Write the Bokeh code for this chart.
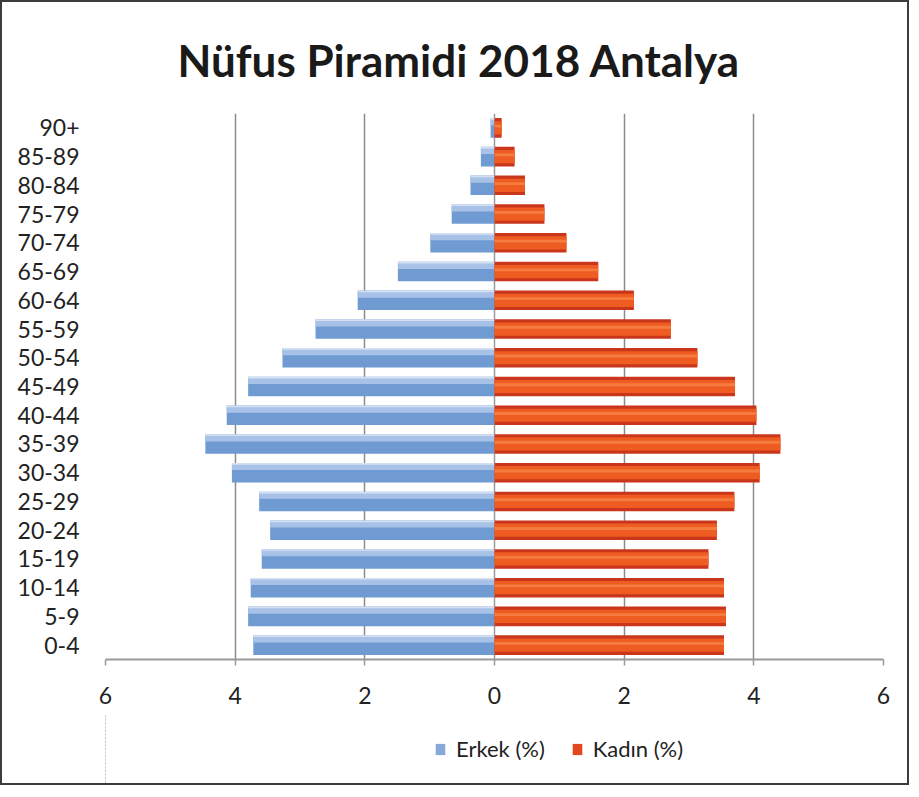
import numpy as np
from bokeh.plotting import figure
from bokeh.layouts import column
from bokeh.models import (ColumnDataSource, Range1d, FixedTicker, Legend, LegendItem,
                          Span)
from bokeh.transform import dodge
from bokeh.embed import file_html
from bokeh.resources import INLINE

# ---- data (bottom -> top) ----
age_groups = ["0-4", "5-9", "10-14", "15-19", "20-24", "25-29", "30-34", "35-39",
              "40-44", "45-49", "50-54", "55-59", "60-64", "65-69", "70-74",
              "75-79", "80-84", "85-89", "90+"]
erkek = [3.72, 3.80, 3.76, 3.59, 3.46, 3.63, 4.05, 4.46, 4.13, 3.80,
         3.27, 2.76, 2.11, 1.49, 0.99, 0.66, 0.37, 0.21, 0.06]
kadin = [3.54, 3.57, 3.54, 3.30, 3.43, 3.70, 4.09, 4.41, 4.04, 3.71,
         3.13, 2.72, 2.15, 1.60, 1.11, 0.77, 0.47, 0.31, 0.11]
x_ticks = [-6, -4, -2, 0, 2, 4, 6]
x_tick_labels = ["6", "4", "2", "0", "2", "4", "6"]

title_text = "Nüfus Piramidi 2018 Antalya"
series_names = ["Erkek (%)", "Kadın (%)"]

y = list(range(len(age_groups)))
src = ColumnDataSource(dict(y=y, male=[-v for v in erkek], female=kadin,
                            zero=[0] * len(y)))

FONT = "Lato"

p = figure(width=905, height=712, output_backend="svg", toolbar_location=None,
           x_range=Range1d(-6, 6), y_range=Range1d(-0.5, len(y) - 0.5),
           min_border_left=103, min_border_right=24, min_border_top=111,
           min_border_bottom=55)
p.outline_line_color = None
p.background_fill_color = "white"
p.border_fill_color = "white"

# title
p.title.text = title_text
p.title.align = "left"
p.title.offset = 72
p.title.vertical_align = "top"
p.title.text_font = FONT
p.title.text_font_style = "bold"
p.title.text_font_size = "44px"
p.title.text_color = "#1a1a1a"
p.title.standoff = 52

# grid
p.ygrid.grid_line_color = None
p.xgrid.ticker = FixedTicker(ticks=[t for t in x_ticks if t != 0])
p.xgrid.grid_line_color = "#8c8c8c"
p.xgrid.grid_line_width = 1.5
p.add_layout(Span(location=0, dimension="height", line_color="#9a9a9a",
                  line_width=1.5, level="underlay"))

H = 0.68
# male bars (layered to imitate gradient)
p.hbar(y="y", left="male", right="zero", height=H, source=src,
       fill_color="#6F9BD2", line_color=None)
p.hbar(y=dodge("y", 0.2), left="male", right="zero", height=0.22, source=src,
       fill_color="#A8C2E7", line_color=None)
p.hbar(y=dodge("y", 0.31), left="male", right="zero", height=0.06, source=src,
       fill_color="#D5E1F2", line_color=None)
# female bars
p.hbar(y="y", left="zero", right="female", height=H, source=src,
       fill_color="#C9361B", line_color=None)
p.hbar(y="y", left="zero", right="female", height=0.46, source=src,
       fill_color="#EF5C22", line_color=None)
p.hbar(y=dodge("y", 0.06), left="zero", right="female", height=0.1, source=src,
       fill_color="#F47C3E", line_color=None)

# x axis
p.xaxis.ticker = FixedTicker(ticks=x_ticks)
p.xaxis.major_label_overrides = {t: l for t, l in zip(x_ticks, x_tick_labels)}
p.xaxis.axis_line_color = "#9a9a9a"
p.xaxis.axis_line_width = 2
p.xaxis.major_tick_line_color = "#9a9a9a"
p.xaxis.major_tick_line_width = 1.5
p.xaxis.major_tick_out = 6
p.xaxis.major_tick_in = 0
p.xaxis.minor_tick_line_color = None
p.xaxis.major_label_standoff = 21
p.xaxis.major_label_text_font = FONT
p.xaxis.major_label_text_font_size = "23px"
p.xaxis.major_label_text_color = "#222222"

# y axis
p.yaxis.ticker = FixedTicker(ticks=y)
p.yaxis.major_label_overrides = {i: a for i, a in zip(y, age_groups)}
p.yaxis.axis_line_color = None
p.yaxis.major_tick_line_color = None
p.yaxis.minor_tick_line_color = None
p.yaxis.major_label_standoff = 20
p.yaxis.major_label_text_font = FONT
p.yaxis.major_label_text_font_size = "23px"
p.yaxis.major_label_text_color = "#222222"

# legend strip below the chart (its glyph renderers lie outside its view)
lg = figure(width=905, height=69, output_backend="svg", toolbar_location=None,
            x_range=Range1d(100, 101), y_range=Range1d(-0.5, len(y) - 0.5),
            x_axis_location=None, y_axis_location=None,
            min_border_left=0, min_border_right=0, min_border_top=0,
            min_border_bottom=0)
lg.outline_line_color = None
lg.grid.grid_line_color = None
lg.border_fill_color = "white"
male_key = lg.hbar(y="y", left="male", right="zero", height=H, source=src,
                   fill_color="#86A9D9", line_color=None)
fem_key = lg.hbar(y="y", left="zero", right="female", height=H, source=src,
                  fill_color="#E2471D", line_color=None)
legend = Legend(items=[LegendItem(label=series_names[0], renderers=[male_key]),
                       LegendItem(label=series_names[1], renderers=[fem_key])],
                orientation="horizontal", location=(329, 21),
                border_line_color=None, background_fill_alpha=0,
                padding=0, margin=0, spacing=26, label_standoff=10,
                glyph_width=12, glyph_height=14,
                label_text_font=FONT, label_text_font_size="22px",
                label_text_color="#222222")
lg.add_layout(legend, "center")

layout = column(p, lg, spacing=0)
layout.styles = {"border": "2px solid #3c3c3c", "background-color": "white"}

open("out.html", "w").write(file_html(layout, INLINE))
